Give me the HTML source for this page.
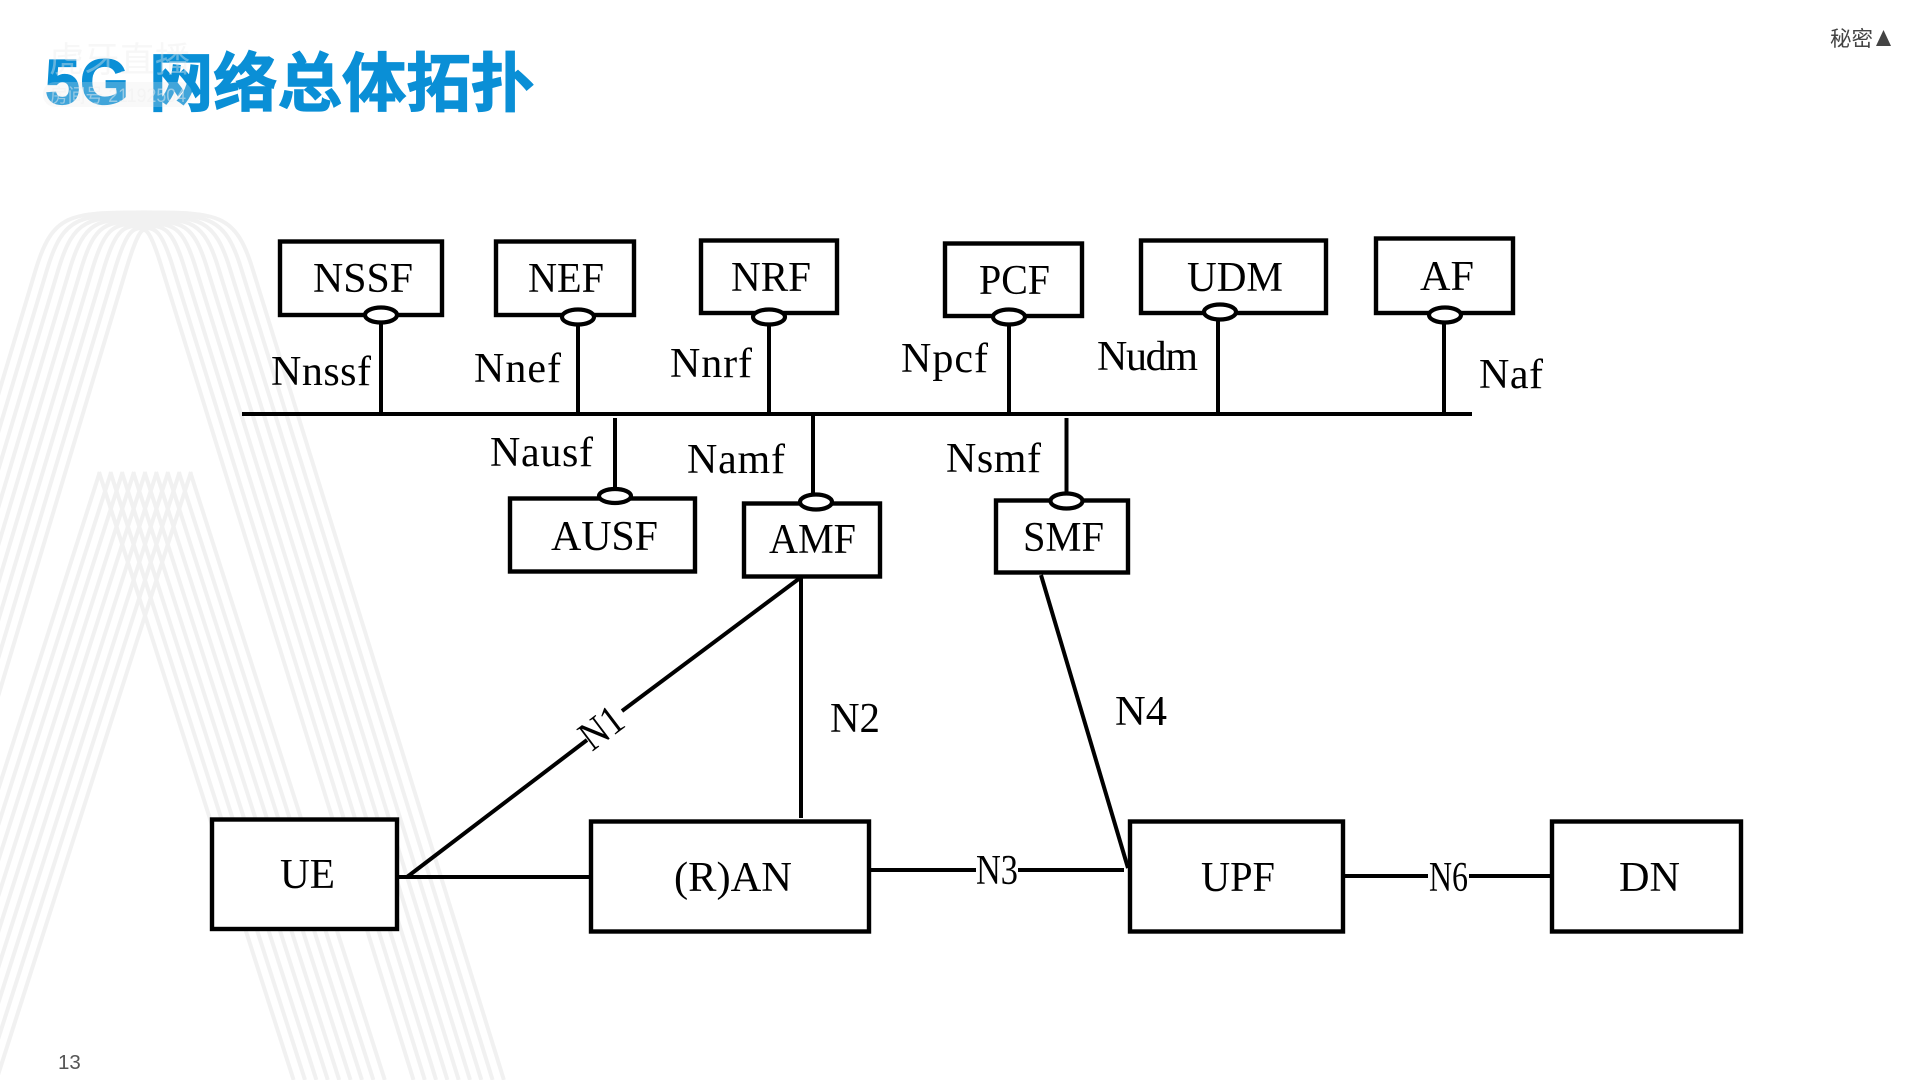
<!DOCTYPE html>
<html lang="zh">
<head>
<meta charset="utf-8">
<title>5G 网络总体拓扑</title>
<style>
html,body{margin:0;padding:0;background:#fff;}
body{width:1920px;height:1080px;overflow:hidden;}
svg{display:block;}
.bg path,.bg line{fill:none;stroke:#f1f1f1;stroke-width:4;}
.b{fill:#fff;stroke:#000;stroke-width:4.4;}
.l{stroke:#000;stroke-width:4;fill:none;}
.e{fill:#fff;stroke:#000;stroke-width:4.2;}
.t{font-family:"Liberation Serif",serif;font-size:42px;fill:#000;}
</style>
</head>
<body>
<svg width="1920" height="1080" viewBox="0 0 1920 1080" xmlns="http://www.w3.org/2000/svg">
<rect width="1920" height="1080" fill="#fff"/>
<g class="bg">
<path d="M-117 1080L126 270C137.700 231 142 230 144 230C146 230 150.800 231 162.500 270L413.500 1080"/>
<path d="M-128.300 1080L114.700 270C127 229 133 228 144 228C155 228 161.500 229 173.800 270L424.800 1080"/>
<path d="M-139.600 1080L103.400 270C116.400 226.600 124 225.600 144 225.600C164 225.600 172.100 226.600 185.100 270L436.100 1080"/>
<path d="M-150.900 1080L92.100 270C105.800 224.400 115 223.400 144 223.400C173 223.400 182.700 224.400 196.400 270L447.400 1080"/>
<path d="M-162.200 1080L80.800 270C95.100 222.200 106 221.200 144 221.200C182 221.200 193.400 222.200 207.700 270L458.700 1080"/>
<path d="M-173.500 1080L69.500 270C84.500 220 97 219 144 219C191 219 204 220 219 270L470 1080"/>
<path d="M-184.800 1080L58.200 270C73.900 217.800 88 216.800 144 216.800C200 216.800 214.600 217.800 230.300 270L481.300 1080"/>
<path d="M-196.100 1080L46.900 270C63.200 215.600 79 214.600 144 214.600C209 214.600 225.300 215.600 241.600 270L492.600 1080"/>
<path d="M-207.400 1080L35.600 270C52.600 213.400 70 212.400 144 212.400C218 212.400 235.900 213.400 252.900 270L503.900 1080"/>
<line x1="99" y1="472" x2="293.600" y2="1080"/>
<line x1="110.400" y1="472" x2="305" y2="1080"/>
<line x1="121.800" y1="472" x2="316.400" y2="1080"/>
<line x1="133.200" y1="472" x2="327.800" y2="1080"/>
<line x1="144.600" y1="472" x2="339.200" y2="1080"/>
<line x1="156" y1="472" x2="350.600" y2="1080"/>
<line x1="167.400" y1="472" x2="362" y2="1080"/>
<line x1="178.800" y1="472" x2="373.400" y2="1080"/>
<line x1="190.200" y1="472" x2="384.800" y2="1080"/>
<line x1="191" y1="472" x2="-3.600" y2="1080"/>
<line x1="179.600" y1="472" x2="-15" y2="1080"/>
<line x1="168.200" y1="472" x2="-26.400" y2="1080"/>
<line x1="156.800" y1="472" x2="-37.800" y2="1080"/>
<line x1="145.400" y1="472" x2="-49.200" y2="1080"/>
<line x1="134" y1="472" x2="-60.600" y2="1080"/>
<line x1="122.600" y1="472" x2="-72" y2="1080"/>
<line x1="111.200" y1="472" x2="-83.400" y2="1080"/>
<line x1="99.800" y1="472" x2="-94.800" y2="1080"/>
</g>

<text x="45" y="104" font-family="'Liberation Sans','Noto Sans CJK SC',sans-serif" font-weight="700" font-size="64" fill="#0a8fd6" stroke="#0a8fd6" stroke-width="1.2" textLength="84" lengthAdjust="spacingAndGlyphs">5G</text>
<text x="149" y="106" font-family="'Noto Sans CJK SC','WenQuanYi Zen Hei',sans-serif" font-weight="700" font-size="64" fill="#0a8fd6" stroke="#0a8fd6" stroke-width="1.2" textLength="386" lengthAdjust="spacingAndGlyphs">网络总体拓扑</text>
<text x="49" y="72" font-family="'Noto Sans CJK SC',sans-serif" font-size="35" fill="#ececec" fill-opacity="0.4" textLength="141">虎牙直播</text>
<rect x="43" y="82" width="149" height="25" rx="12" fill="#e8e8e8" fill-opacity="0.25"/>
<text x="50" y="102" font-family="'Liberation Sans','Noto Sans CJK SC',sans-serif" font-size="19" fill="#f0f0f0" fill-opacity="0.5" textLength="136" lengthAdjust="spacingAndGlyphs">房间号 21192504</text>

<text x="1830" y="46" font-family="'Noto Sans CJK SC',sans-serif" font-size="21" fill="#444" textLength="43" lengthAdjust="spacingAndGlyphs">秘密</text>
<polygon points="1876,46 1891,46 1883.500,30" fill="#444"/>
<text x="58" y="1069" font-family="'Liberation Sans',sans-serif" font-size="20.500" fill="#555">13</text>

<line class="l" x1="242" y1="414" x2="1472" y2="414"/>
<line class="l" x1="381" y1="315" x2="381" y2="414"/>
<line class="l" x1="578" y1="317" x2="578" y2="414"/>
<line class="l" x1="769" y1="317" x2="769" y2="414"/>
<line class="l" x1="1009" y1="317" x2="1009" y2="414"/>
<line class="l" x1="1218" y1="312" x2="1218" y2="414"/>
<line class="l" x1="1444" y1="315" x2="1444" y2="414"/>
<line class="l" x1="615" y1="418" x2="615" y2="496"/>
<line class="l" x1="813" y1="414" x2="813" y2="502"/>
<line class="l" x1="1066.500" y1="418" x2="1066.500" y2="501"/>

<rect class="b" x="280" y="241.500" width="162" height="73.500"/>
<rect class="b" x="496" y="241.500" width="138" height="73.500"/>
<rect class="b" x="701" y="240.500" width="136" height="72.500"/>
<rect class="b" x="945" y="243.500" width="137" height="72.500"/>
<rect class="b" x="1141" y="240.500" width="185" height="72.500"/>
<rect class="b" x="1376" y="238.500" width="137" height="74.500"/>
<rect class="b" x="510" y="498.500" width="185" height="73"/>
<rect class="b" x="744" y="503.500" width="136" height="73"/>
<rect class="b" x="996" y="500.500" width="132" height="72"/>
<rect class="b" x="212" y="819.500" width="185" height="109.500"/>
<rect class="b" x="591" y="821.500" width="278" height="110"/>
<rect class="b" x="1130" y="821.500" width="213" height="110"/>
<rect class="b" x="1552" y="821.500" width="189" height="110"/>

<ellipse class="e" cx="381" cy="315" rx="16" ry="7.500"/>
<ellipse class="e" cx="578" cy="317" rx="16" ry="7.500"/>
<ellipse class="e" cx="769" cy="317" rx="16" ry="7.500"/>
<ellipse class="e" cx="1009" cy="317" rx="16" ry="7.500"/>
<ellipse class="e" cx="1220" cy="312" rx="16" ry="7.500"/>
<ellipse class="e" cx="1445" cy="315" rx="16" ry="7.500"/>
<ellipse class="e" cx="615" cy="496" rx="16" ry="7"/>
<ellipse class="e" cx="816" cy="502" rx="16" ry="7.500"/>
<ellipse class="e" cx="1066.500" cy="501" rx="16" ry="7.500"/>

<line class="l" x1="800" y1="578" x2="622" y2="711"/>
<line class="l" x1="587" y1="740" x2="407" y2="877"/>
<line class="l" x1="801" y1="577" x2="801" y2="818"/>
<line class="l" x1="397" y1="877" x2="592" y2="877"/>
<line class="l" x1="869" y1="870" x2="976" y2="870"/>
<line class="l" x1="1018" y1="870" x2="1124" y2="870"/>
<line class="l" x1="1041" y1="575" x2="1128" y2="868"/>
<line class="l" x1="1343" y1="876" x2="1428" y2="876"/>
<line class="l" x1="1469" y1="876" x2="1553" y2="876"/>

<text class="t" x="313" y="292" textLength="100" lengthAdjust="spacingAndGlyphs">NSSF</text>
<text class="t" x="528" y="292" textLength="76" lengthAdjust="spacingAndGlyphs">NEF</text>
<text class="t" x="731" y="291" textLength="80" lengthAdjust="spacingAndGlyphs">NRF</text>
<text class="t" x="979" y="294" textLength="71" lengthAdjust="spacingAndGlyphs">PCF</text>
<text class="t" x="1187" y="291" textLength="96" lengthAdjust="spacingAndGlyphs">UDM</text>
<text class="t" x="1420" y="290" textLength="54" lengthAdjust="spacingAndGlyphs">AF</text>
<text class="t" x="271" y="385" textLength="100" lengthAdjust="spacing">Nnssf</text>
<text class="t" x="474" y="382" textLength="87" lengthAdjust="spacing">Nnef</text>
<text class="t" x="670" y="377" textLength="82" lengthAdjust="spacing">Nnrf</text>
<text class="t" x="901" y="372" textLength="87" lengthAdjust="spacing">Npcf</text>
<text class="t" x="1097" y="370" textLength="101" lengthAdjust="spacing">Nudm</text>
<text class="t" x="1479" y="388" textLength="64" lengthAdjust="spacing">Naf</text>
<text class="t" x="490" y="466" textLength="103" lengthAdjust="spacing">Nausf</text>
<text class="t" x="687" y="473" textLength="98" lengthAdjust="spacing">Namf</text>
<text class="t" x="946" y="472" textLength="95" lengthAdjust="spacing">Nsmf</text>
<text class="t" x="551" y="550" textLength="107" lengthAdjust="spacing">AUSF</text>
<text class="t" x="769" y="553" textLength="87" lengthAdjust="spacingAndGlyphs">AMF</text>
<text class="t" x="1023" y="551" textLength="81" lengthAdjust="spacingAndGlyphs">SMF</text>
<text class="t" x="830" y="732" textLength="50" lengthAdjust="spacingAndGlyphs">N2</text>
<text class="t" x="1115" y="725" textLength="52" lengthAdjust="spacingAndGlyphs">N4</text>
<text class="t" x="976" y="884" textLength="42" lengthAdjust="spacingAndGlyphs">N3</text>
<text class="t" x="1429" y="891" textLength="39" lengthAdjust="spacingAndGlyphs">N6</text>
<text class="t" x="280" y="888" textLength="55" lengthAdjust="spacingAndGlyphs">UE</text>
<text class="t" x="674" y="891" textLength="118" lengthAdjust="spacingAndGlyphs">(R)AN</text>
<text class="t" x="1201" y="891" textLength="74" lengthAdjust="spacingAndGlyphs">UPF</text>
<text class="t" x="1619" y="891" textLength="61" lengthAdjust="spacingAndGlyphs">DN</text>
<text class="t" transform="translate(592 752) rotate(-37)" font-size="38" textLength="44" lengthAdjust="spacingAndGlyphs">N1</text>
</svg>
</body>
</html>
